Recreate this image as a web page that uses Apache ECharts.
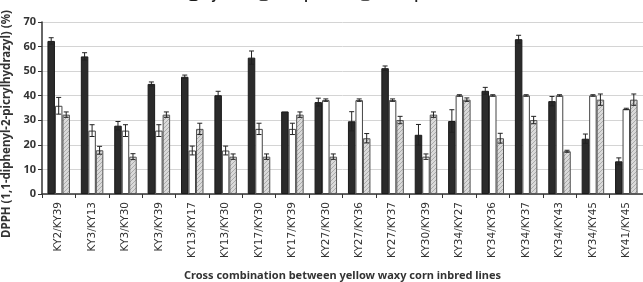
<!DOCTYPE html>
<html>
<head>
<meta charset="utf-8">
<script src="https://cdn.jsdelivr.net/npm/echarts@6/dist/echarts.min.js"></script>
<style>
  html, body { margin: 0; padding: 0; background: #fff; }
  #chart { width: 643px; height: 282px; }
</style>
</head>
<body>
<div id="chart"></div>
<script>
var crosses = ["KY2/KY39", "KY3/KY13", "KY3/KY30", "KY3/KY39", "KY13/KY17", "KY13/KY30",
  "KY17/KY30", "KY17/KY39", "KY27/KY30", "KY27/KY36", "KY27/KY37", "KY30/KY39",
  "KY34/KY27", "KY34/KY36", "KY34/KY37", "KY34/KY43", "KY34/KY45", "KY41/KY45"];

var hybrid = [62.3, 56.0, 27.8, 44.8, 47.7, 40.2, 55.5, 33.6, 37.4, 29.6, 51.2, 24.1,
  29.7, 42.0, 63.0, 37.8, 22.5, 13.3];
var hybridErr = [1.3, 1.5, 1.7, 0.8, 0.7, 1.6, 2.7, 0, 1.6, 3.9, 0.9, 4.2,
  4.6, 1.4, 1.6, 1.9, 1.9, 1.4];

var seedParent = [35.9, 25.8, 25.8, 25.8, 17.7, 17.7, 26.5, 26.5, 38.2, 38.2, 38.2, 15.2,
  40.1, 40.1, 40.1, 40.1, 40.1, 34.6];
var seedErr = [3.4, 2.4, 2.4, 2.4, 1.8, 1.8, 2.3, 2.3, 0.5, 0.5, 0.5, 1.1,
  0.3, 0.3, 0.3, 0.3, 0.3, 0.3];

var pollenParent = [32.3, 17.8, 15.2, 32.3, 26.5, 15.2, 15.2, 32.3, 15.2, 22.7, 30.1, 32.3,
  38.4, 22.7, 30.1, 17.4, 38.4, 38.4];
var pollenErr = [1.1, 1.6, 1.2, 1.1, 2.3, 1.1, 1.1, 1.1, 1.1, 1.9, 1.5, 1.1,
  0.7, 2.0, 1.5, 0.4, 2.3, 2.3];

// hatched fill for pollen parent
function hatch() {
  var c = document.createElement("canvas");
  c.width = 4;
  c.height = 4;
  var ctx = c.getContext("2d");
  ctx.fillStyle = "#dadada";
  ctx.fillRect(0, 0, 4, 4);
  ctx.fillStyle = "#ababab";
  for (var i = 0; i < 4; i++) {
    ctx.fillRect(i, 3 - i, 1, 1);
  }
  return c;
}

var BAR_W = 7.5;

function errSeries(name, vals, errs, shift) {
  var d = vals.map(function (v, i) { return [i, v, errs[i]]; });
  return {
    name: name + " err",
    type: "custom",
    z: 10,
    silent: true,
    encode: { x: 0, y: 1 },
    data: d,
    renderItem: function (params, api) {
      var e = api.value(2);
      if (!e) return null;
      var v = api.value(1);
      var top = api.coord([api.value(0), v + e]);
      var bot = api.coord([api.value(0), v - e]);
      var x = top[0] + shift;
      var st = { stroke: "#222", lineWidth: 1 };
      return {
        type: "group",
        children: [
          { type: "line", shape: { x1: x, y1: top[1], x2: x, y2: bot[1] }, style: st },
          { type: "line", shape: { x1: x - 2.5, y1: top[1], x2: x + 2.5, y2: top[1] }, style: st },
          { type: "line", shape: { x1: x - 2.5, y1: bot[1], x2: x + 2.5, y2: bot[1] }, style: st }
        ]
      };
    }
  };
}

var chart = echarts.init(document.getElementById("chart"));
chart.setOption({
  animation: false,
  textStyle: { fontFamily: "Noto Sans" },
  legend: {
    top: 0,
    left: "center",
    padding: [-10, 5, 5, 5],
    itemWidth: 8,
    itemHeight: 8,
    itemGap: 16,
    data: ["Hybrid", "Seed parent", "Pollen parent"],
    textStyle: { fontSize: 12, fontWeight: "bold", color: "#222" }
  },
  grid: { left: 42, right: 0, top: 22, bottom: 88, outerBoundsMode: "none" },
  xAxis: {
    type: "category",
    data: crosses,
    axisLine: { lineStyle: { color: "#333", width: 1.5 } },
    axisTick: { show: true, length: 4, lineStyle: { color: "#333" } },
    axisLabel: { rotate: 90, fontSize: 10.5, fontFamily: "DejaVu Sans", color: "#333", margin: 8, interval: 0 },
    name: "Cross combination between yellow waxy corn inbred lines",
    nameLocation: "middle",
    nameGap: 76,
    nameTextStyle: { fontSize: 11, fontWeight: "bold", color: "#333" }
  },
  yAxis: {
    type: "value",
    min: 0,
    max: 70,
    interval: 10,
    axisLine: { show: true, lineStyle: { color: "#333", width: 1.5 } },
    axisTick: { show: true, length: 4, lineStyle: { color: "#333" } },
    axisLabel: { fontSize: 11, fontWeight: "bold", color: "#333", margin: 6 },
    splitLine: { lineStyle: { color: "#d4d4d4" } },
    name: "DPPH (1,1-diphenyl-2-picrylhydrazyl) (%)",
    nameLocation: "middle",
    nameGap: 28,
    nameTextStyle: { fontSize: 11.5, fontWeight: "bold", color: "#333", padding: [0, 32, 0, 0] }
  },
  series: [
    {
      name: "Hybrid",
      type: "bar",
      barWidth: BAR_W,
      barGap: "0%",
      itemStyle: { color: "#2b2b2b", borderColor: "#1a1a1a", borderWidth: 1 },
      data: hybrid
    },
    {
      name: "Seed parent",
      type: "bar",
      barWidth: BAR_W,
      barGap: "0%",
      itemStyle: { color: "#ffffff", borderColor: "#444", borderWidth: 1 },
      data: seedParent
    },
    {
      name: "Pollen parent",
      type: "bar",
      barWidth: BAR_W,
      barGap: "0%",
      itemStyle: { color: { image: hatch(), repeat: "repeat" }, borderColor: "#555", borderWidth: 1 },
      data: pollenParent
    },
    errSeries("Hybrid", hybrid, hybridErr, -BAR_W),
    errSeries("Seed parent", seedParent, seedErr, 0),
    errSeries("Pollen parent", pollenParent, pollenErr, BAR_W)
  ]
});
</script>
</body>
</html>
